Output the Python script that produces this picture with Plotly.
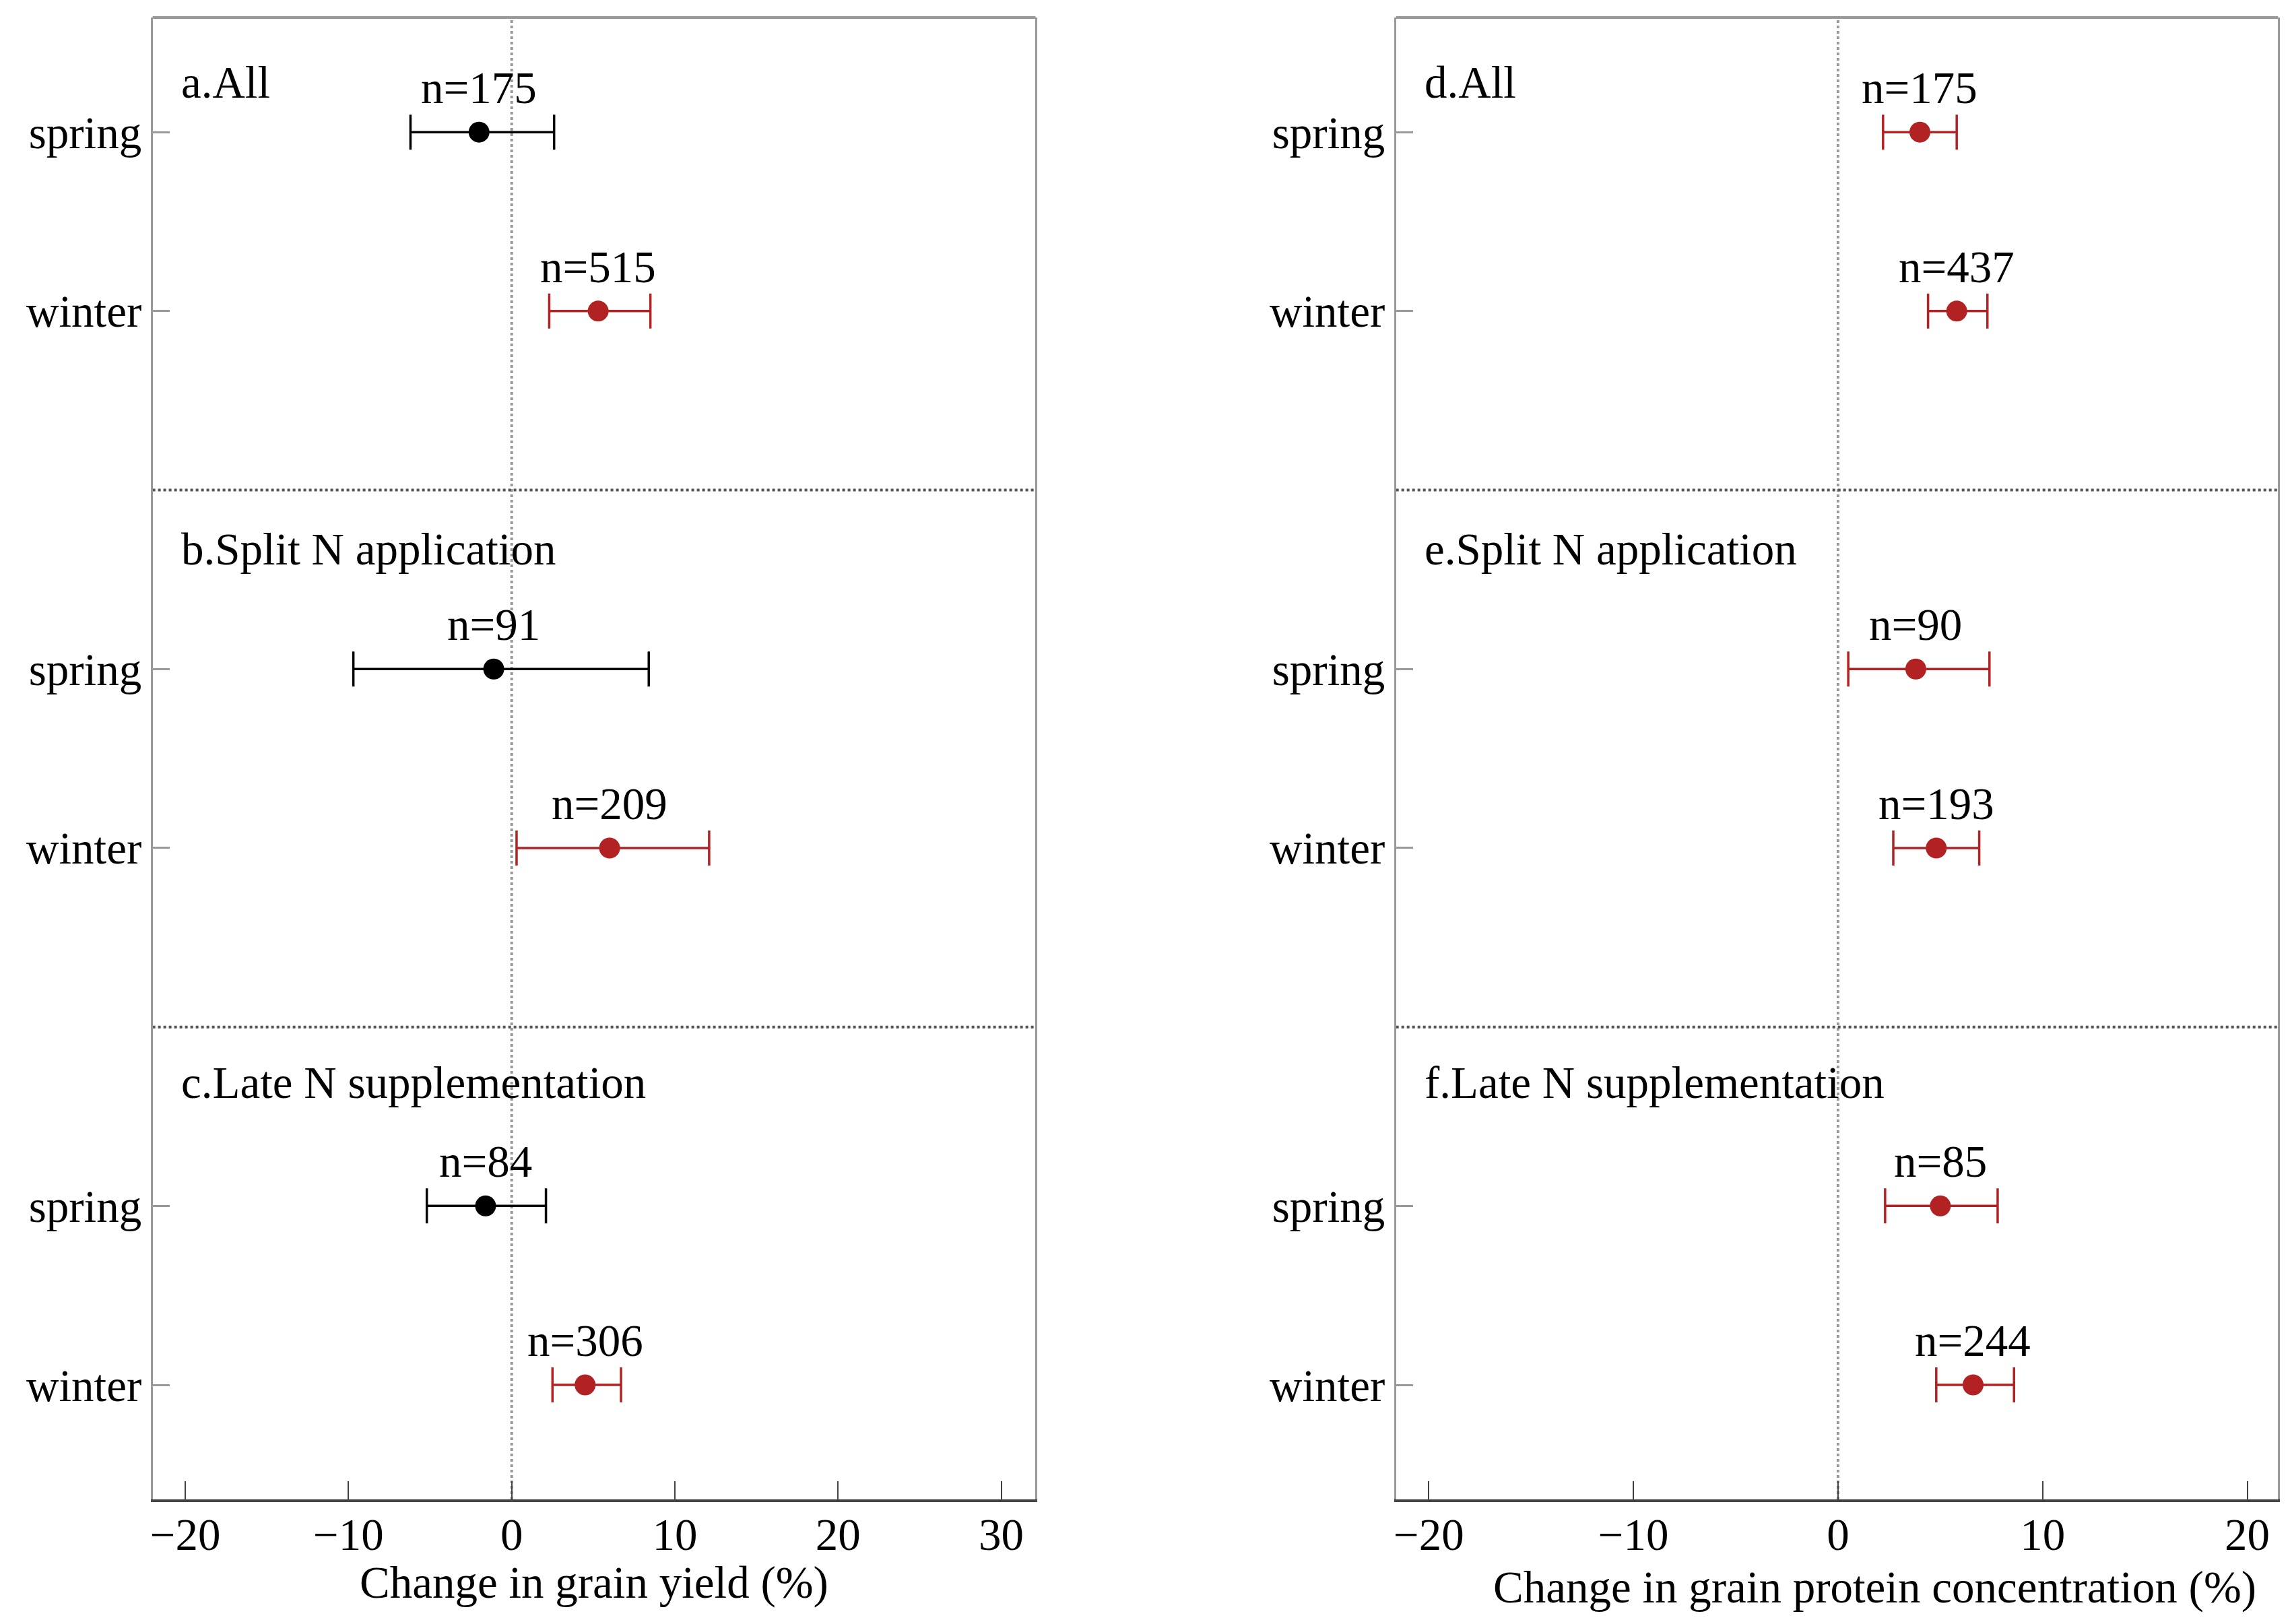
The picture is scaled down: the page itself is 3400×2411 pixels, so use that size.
import plotly.graph_objects as go

groups = ["All", "Split N application", "Late N supplementation"]
seasons = ["spring", "winter"]

# left panel: change in grain yield (%)
yield_mean = [-2.0, 5.3, -1.1, 6.0, -1.6, 4.5]
yield_lo = [-6.2, 2.3, -9.7, 0.3, -5.2, 2.5]
yield_hi = [2.6, 8.5, 8.4, 12.1, 2.1, 6.7]
yield_n = [175, 515, 91, 209, 84, 306]
yield_colors = ["black", "#B22222", "black", "#B22222", "black", "#B22222"]

# right panel: change in grain protein concentration (%)
protein_mean = [4.0, 5.8, 3.8, 4.8, 5.0, 6.6]
protein_lo = [2.2, 4.4, 0.5, 2.7, 2.3, 4.8]
protein_hi = [5.8, 7.3, 7.4, 6.9, 7.8, 8.6]
protein_n = [175, 437, 90, 193, 85, 244]
protein_colors = ["#B22222"] * 6

left_letters = ["a", "b", "c"]
right_letters = ["d", "e", "f"]

FONT = "Liberation Serif"
FS = 67

fig = go.Figure()

# row position on the y axis: two rows per group, one empty slot between groups
pos = [3 * g + r for g in range(len(groups)) for r in range(len(seasons))]
tick_text = [seasons[r] for g in range(len(groups)) for r in range(len(seasons))]


def add_panel(means, lo, hi, ns, colors, xa, ya, letters):
    for i in range(len(means)):
        fig.add_trace(go.Scatter(
            x=[means[i]], y=[pos[i]], mode="markers",
            marker=dict(size=31, color=colors[i]),
            error_x=dict(type="data", symmetric=False,
                         array=[hi[i] - means[i]], arrayminus=[means[i] - lo[i]],
                         color=colors[i], thickness=3.5, width=26),
            xaxis=xa, yaxis=ya, showlegend=False, hoverinfo="skip",
        ))
        fig.add_annotation(x=means[i], y=pos[i], xref=xa, yref=ya,
                           text="n=%d" % ns[i], showarrow=False, yshift=66,
                           font=dict(family=FONT, size=FS, color="black"))
    label_y = [-0.28, 2.33, 5.31]
    for g in range(len(groups)):
        fig.add_annotation(x=0.031, y=label_y[g], xref=xa + " domain", yref=ya,
                           text=letters[g] + "." + groups[g], showarrow=False,
                           xanchor="left", yanchor="middle",
                           font=dict(family=FONT, size=FS, color="black"))
    # zero line
    fig.add_shape(type="line", x0=0, x1=0, y0=0, y1=1, xref=xa, yref=ya + " domain",
                  line=dict(color="#999999", width=4, dash="dot"), layer="below")
    # group dividers
    for d in [2, 5]:
        fig.add_shape(type="line", x0=0, x1=1, y0=d, y1=d, xref=xa + " domain", yref=ya,
                      line=dict(color="#555555", width=4, dash="dot"), layer="below")
    # top frame
    fig.add_shape(type="line", x0=0, x1=1, y0=1, y1=1, xref=xa + " domain", yref=ya + " domain",
                  line=dict(color="#999999", width=4))


add_panel(yield_mean, yield_lo, yield_hi, yield_n, yield_colors, "x", "y", left_letters)
add_panel(protein_mean, protein_lo, protein_hi, protein_n, protein_colors, "x2", "y2", right_letters)

# axis titles
fig.add_annotation(x=0.5, y=0.029, xref="x domain", yref="paper",
                   text="Change in grain yield (%)", showarrow=False,
                   xanchor="center", yanchor="middle",
                   font=dict(family=FONT, size=FS, color="black"))
fig.add_annotation(x=0.543, y=0.026, xref="x2 domain", yref="paper",
                   text="Change in grain protein concentration (%)", showarrow=False,
                   xanchor="center", yanchor="middle",
                   font=dict(family=FONT, size=FS, color="black"))

xcommon = dict(showgrid=False, zeroline=False, showline=True, linecolor="#444444", linewidth=4,
               ticks="inside", ticklen=27, tickwidth=2, tickcolor="#444444",
               ticklabelstandoff=-10,
               tickfont=dict(family=FONT, size=FS, color="black"), dtick=10)
ycommon = dict(showgrid=False, zeroline=False, showline=True, linecolor="#999999", linewidth=3,
               mirror=True, ticks="inside", ticklen=25, tickwidth=3, tickcolor="#999999",
               tickvals=pos, ticktext=tick_text, range=[7.64, -0.64],
               tickfont=dict(family=FONT, size=FS, color="black"))

fig.update_layout(
    width=3400, height=2411,
    margin=dict(l=0, r=0, t=0, b=0),
    plot_bgcolor="white", paper_bgcolor="white",
    font=dict(family=FONT, size=FS, color="black"),
    xaxis=dict(xcommon, domain=[0.0632, 0.4492], range=[-22.0, 32.1]),
    yaxis=dict(ycommon, domain=[0.080, 0.9925], anchor="x"),
    xaxis2=dict(xcommon, domain=[0.6068, 0.9924], range=[-21.6, 21.5], anchor="y2"),
    yaxis2=dict(ycommon, domain=[0.080, 0.9925], anchor="x2"),
)

fig.write_html("out.html")
